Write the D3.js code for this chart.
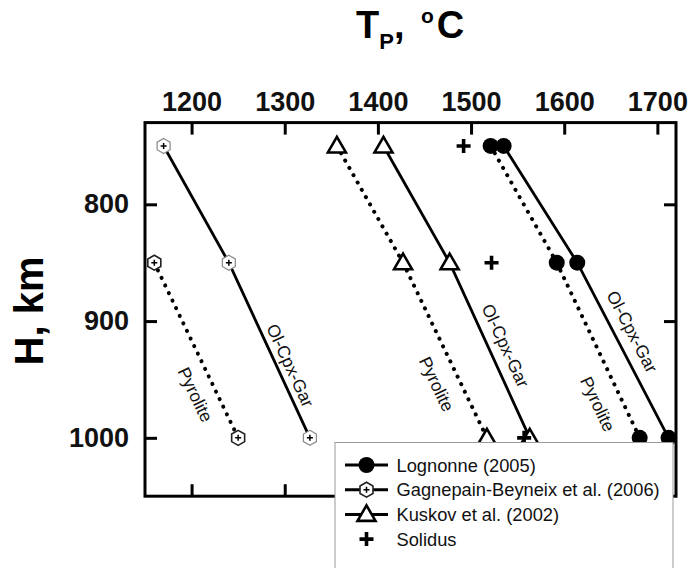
<!DOCTYPE html>
<html>
<head>
<meta charset="utf-8">
<script src="https://cdn.jsdelivr.net/npm/d3@7"></script>
<style>
    body { margin: 0; background: #fff; }
    svg { display: block; }
</style>
</head>
<body>
<div id="chart"></div>
<script>
// 深度 (km)
const depths = [750, 850, 1000];

// 各模型的位温 Tp (°C)，null 表示无数据
const lognonneOCG = [1535, 1614, 1712];
const lognonnePyr = [1521, 1592, 1681];
const gagnepainOCG = [1170, 1240, 1327];
const gagnepainPyr = [null, 1160, 1250];
const kuskovOCG = [1406, 1477, 1563];
const kuskovPyr = [1356, 1427, 1517];
const solidus = [1492, 1522, 1557];

// 坐标轴刻度
const tempTicks = [1200, 1300, 1400, 1500, 1600, 1700];
const depthTicks = [800, 900, 1000];

// 线旁的标注 (Tp, H)
const labelNames = ['Ol-Cpx-Gar', 'Pyrolite', 'Ol-Cpx-Gar', 'Pyrolite', 'Ol-Cpx-Gar', 'Pyrolite'];
const labelT = [1306, 1204, 1537, 1463, 1673, 1636];
const labelH = [938, 963, 921, 954, 909, 971];

// 图例
const legendNames = ['Lognonne (2005)', 'Gagnepain-Beyneix et al. (2006)', 'Kuskov et al. (2002)', 'Solidus'];

const width = 689, height = 568;

const svg = d3.select('#chart')
    .append('svg')
    .attr('width', width)
    .attr('height', height)
    .style('font-family', 'Arial, "Liberation Sans", sans-serif');

const x = d3.scaleLinear().domain([1150, 1720]).range([145, 676]);
const y = d3.scaleLinear().domain([730, 1050]).range([122.6, 496.2]);

const toPoints = vals => vals.map((t, i) => ({ t: t, h: depths[i] }));

const series = [
    { values: lognonneOCG, marker: 'circle', dotted: false },
    { values: lognonnePyr, marker: 'circle', dotted: true },
    { values: gagnepainOCG, marker: 'hexLight', dotted: false },
    { values: gagnepainPyr, marker: 'hexDark', dotted: true },
    { values: kuskovOCG, marker: 'triangle', dotted: false },
    { values: kuskovPyr, marker: 'triangle', dotted: true }
];
// 标注顺序与 series 对应
const labelSeries = [2, 3, 4, 5, 0, 1];

// 画标记
function drawMarker(g, type) {
    if (type === 'circle') {
        g.append('circle').attr('r', 8).attr('fill', '#000');
    } else if (type === 'hexLight' || type === 'hexDark') {
        const r = 7.5;
        const pts = d3.range(6).map(k => {
            const a = (-90 + k * 60) * Math.PI / 180;
            return [r * Math.cos(a), r * Math.sin(a)];
        });
        g.append('path')
            .attr('d', 'M' + pts.join('L') + 'Z')
            .attr('fill', '#fff')
            .attr('stroke', type === 'hexLight' ? '#8a8a8a' : '#222')
            .attr('stroke-width', type === 'hexLight' ? 1.2 : 1.6);
        g.append('path')
            .attr('d', 'M-3,0H3M0,-3V3')
            .attr('stroke', '#000')
            .attr('stroke-width', 1.5);
    } else if (type === 'triangle') {
        g.append('path')
            .attr('d', 'M0,-9L9,6.5L-9,6.5Z')
            .attr('fill', '#fff')
            .attr('stroke', '#000')
            .attr('stroke-width', 2.6)
            .attr('stroke-linejoin', 'miter');
    } else if (type === 'plus') {
        g.append('path')
            .attr('d', 'M-7,0H7M0,-7V7')
            .attr('stroke', '#000')
            .attr('stroke-width', 3.6);
    }
}

// 坐标框
svg.append('rect')
    .attr('x', x.range()[0])
    .attr('y', y.range()[0])
    .attr('width', x.range()[1] - x.range()[0])
    .attr('height', y.range()[1] - y.range()[0])
    .attr('fill', 'none')
    .attr('stroke', '#000')
    .attr('stroke-width', 3);

// 四边刻度
const fmt = d3.format('d');
const axes = [
    { axis: d3.axisTop(x).tickValues(tempTicks).tickFormat(fmt).tickPadding(12), tr: `translate(0,${y.range()[0]})` },
    { axis: d3.axisBottom(x).tickValues(tempTicks).tickFormat(''), tr: `translate(0,${y.range()[1]})` },
    { axis: d3.axisLeft(y).tickValues(depthTicks).tickFormat(fmt).tickPadding(16), tr: `translate(${x.range()[0]},0)` },
    { axis: d3.axisRight(y).tickValues(depthTicks).tickFormat(''), tr: `translate(${x.range()[1]},0)` }
];
axes.forEach(a => {
    const g = svg.append('g')
        .attr('transform', a.tr)
        .call(a.axis.tickSize(-12).tickSizeOuter(0));
    g.select('.domain').remove();
    g.selectAll('.tick line').attr('stroke', '#000').attr('stroke-width', 3);
    g.selectAll('.tick text')
        .attr('fill', '#111')
        .style('font-size', '27px')
        .style('font-weight', 'bold')
        .style('font-family', 'Arial, "Liberation Sans", sans-serif');
});

// 线
const line = d3.line()
    .defined(d => d.t != null)
    .x(d => x(d.t))
    .y(d => y(d.h));

series.forEach(s => {
    svg.append('path')
        .datum(toPoints(s.values))
        .attr('d', line)
        .attr('fill', 'none')
        .attr('stroke', '#000')
        .attr('stroke-width', s.dotted ? 4 : 2.8)
        .attr('stroke-linecap', s.dotted ? 'round' : 'butt')
        .attr('stroke-dasharray', s.dotted ? '0.1 8.3' : null);
});

// 线旁文字
labelNames.forEach((name, i) => {
    const pts = toPoints(series[labelSeries[i]].values);
    const p1 = pts[1], p2 = pts[2];
    const ang = Math.atan2(y(p2.h) - y(p1.h), x(p2.t) - x(p1.t)) * 180 / Math.PI;
    svg.append('text')
        .attr('transform', `translate(${x(labelT[i])},${y(labelH[i])}) rotate(${ang})`)
        .attr('text-anchor', 'middle')
        .attr('dy', '0.35em')
        .attr('fill', '#111')
        .style('font-size', '17.5px')
        .text(name);
});

// 标记
series.forEach(s => {
    toPoints(s.values).filter(d => d.t != null).forEach(d => {
        const g = svg.append('g').attr('transform', `translate(${x(d.t)},${y(d.h)})`);
        drawMarker(g, s.marker);
    });
});
toPoints(solidus).forEach(d => {
    const g = svg.append('g').attr('transform', `translate(${x(d.t)},${y(d.h)})`);
    drawMarker(g, 'plus');
});

// 标题
const title = svg.append('text')
    .attr('x', 356)
    .attr('y', 38)
    .attr('fill', '#000')
    .style('font-weight', 'bold')
    .style('font-size', '38px');
title.append('tspan').text('T');
title.append('tspan').attr('dy', 11).style('font-size', '22px').text('P');
title.append('tspan').attr('dy', -11).text(', ');
title.append('tspan').attr('dy', -15).attr('dx', 6).style('font-size', '21px').text('o');
title.append('tspan').attr('dy', 15).attr('dx', 3).text('C');

svg.append('text')
    .attr('transform', 'translate(43,311) rotate(-90)')
    .attr('text-anchor', 'middle')
    .attr('fill', '#000')
    .style('font-weight', 'bold')
    .style('font-size', '40px')
    .text('H, km');

// 图例
const legend = svg.append('g');
legend.append('rect')
    .attr('x', 335)
    .attr('y', 442.5)
    .attr('width', 338)
    .attr('height', 140)
    .attr('fill', '#fff')
    .attr('stroke', '#9a9a9a')
    .attr('stroke-width', 1);

const legendMarkers = ['circle', 'hexDark', 'triangle', 'plus'];
legendNames.forEach((name, i) => {
    const ly = 465 + i * 24.7;
    if (legendMarkers[i] !== 'plus') {
        legend.append('line')
            .attr('x1', 345).attr('x2', 388)
            .attr('y1', ly).attr('y2', ly)
            .attr('stroke', '#000')
            .attr('stroke-width', 3);
    }
    const g = legend.append('g').attr('transform', `translate(366.5,${ly})`);
    drawMarker(g, legendMarkers[i]);
    legend.append('text')
        .attr('x', 396.5)
        .attr('y', ly)
        .attr('dy', '0.36em')
        .attr('fill', '#111')
        .style('font-size', '18.3px')
        .text(name);
});
</script>
</body>
</html>
